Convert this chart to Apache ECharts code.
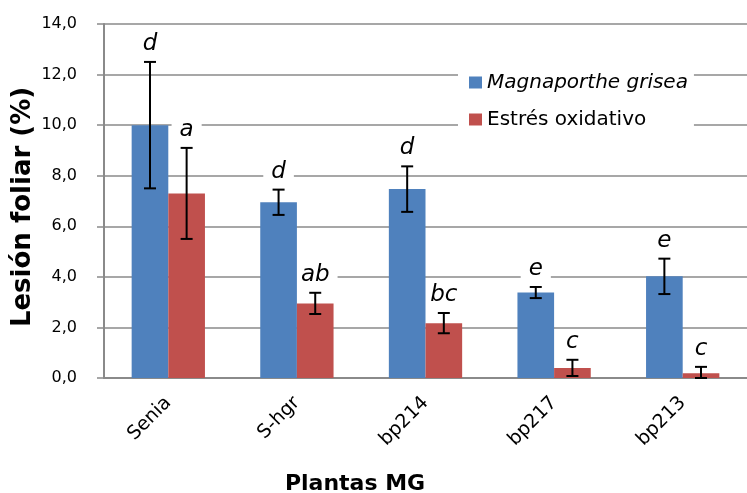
<!DOCTYPE html>
<html>
<head>
<meta charset="utf-8">
<script src="https://cdn.jsdelivr.net/npm/echarts@6/dist/echarts.min.js"></script>
<style>
  html, body { margin: 0; padding: 0; background: #fff; }
  #chart { width: 747px; height: 493px; }
</style>
</head>
<body>
<div id="chart"></div>
<script>
// Lesión foliar (%) por línea de planta, con error estándar y letras de significación
const categories = ['Senia', 'S-hgr', 'bp214', 'bp217', 'bp213'];

const magnaName = 'Magnaporthe grisea';
const magnaValues = [10.0, 6.95, 7.47, 3.38, 4.02];
const magnaErrors = [2.5, 0.5, 0.9, 0.22, 0.7];
const magnaLetters = ['d', 'd', 'd', 'e', 'e'];

const estresName = 'Estrés oxidativo';
const estresValues = [7.3, 2.95, 2.17, 0.4, 0.19];
const estresErrors = [1.8, 0.42, 0.4, 0.32, 0.25];
const estresLetters = ['a', 'ab', 'bc', 'c', 'c'];

const yTicks = [0, 2, 4, 6, 8, 10, 12, 14];

const FONT = '"DejaVu Sans", Verdana, sans-serif';
const BLUE = '#4F81BD';
const RED = '#C0504D';
const GRID_GRAY = '#8a8a8a';
const GAP = 0.43;

// x position of a bar inside its category band; side -1 = left bar, +1 = right bar
function barX(api, i, side) {
  const band = api.size([1, 0])[0];
  const bw = band * (1 - GAP) / 2;
  return api.coord([i, 0])[0] + side * bw / 2;
}

// Error bar (whisker with caps) drawn over the bars
function errorSeries(name, values, errors, side) {
  return {
    name: name,
    type: 'custom',
    z: 5,
    silent: true,
    data: values.map((v, i) => [i, v, errors[i]]),
    renderItem: function (params, api) {
      const i = api.value(0);
      const v = api.value(1);
      const e = api.value(2);
      const x = barX(api, i, side);
      const top = api.coord([i, v + e])[1];
      const bot = api.coord([i, Math.max(v - e, 0)])[1];
      const cap = 6;
      const lineStyle = { stroke: '#000', lineWidth: 2 };
      return {
        type: 'group',
        children: [
          { type: 'line', shape: { x1: x, y1: top, x2: x, y2: bot }, style: lineStyle },
          { type: 'line', shape: { x1: x - cap, y1: top, x2: x + cap, y2: top }, style: lineStyle },
          { type: 'line', shape: { x1: x - cap, y1: bot, x2: x + cap, y2: bot }, style: lineStyle }
        ]
      };
    }
  };
}

// Significance letter above each whisker; sits above gridlines but under the bars
function letterSeries(name, values, errors, letters, side) {
  return {
    name: name,
    type: 'custom',
    z: 1,
    silent: true,
    data: values.map((v, i) => [i, v, errors[i]]),
    renderItem: function (params, api) {
      const i = api.value(0);
      const x = barX(api, i, side);
      const top = api.coord([i, api.value(1) + api.value(2)])[1];
      return {
        type: 'text',
        x: x,
        y: top - 18,
        style: {
          text: letters[params.dataIndex],
          font: 'italic 23px ' + FONT,
          fill: '#000',
          align: 'center',
          verticalAlign: 'middle',
          backgroundColor: '#fff',
          padding: [0, 8]
        }
      };
    }
  };
}

const chart = echarts.init(document.getElementById('chart'), null, { renderer: 'canvas' });

chart.setOption({
  animation: false,
  backgroundColor: '#fff',
  grid: { left: 104, top: 24, width: 651, height: 354, containLabel: false },
  legend: {
    data: [magnaName, estresName],
    orient: 'vertical',
    left: 458,
    top: 67,
    backgroundColor: '#fff',
    padding: [4, 6, 8, 11],
    itemWidth: 13,
    itemHeight: 12,
    itemGap: 14,
    icon: 'rect',
    textStyle: {
      fontFamily: FONT,
      fontSize: 20,
      color: '#000',
      lineHeight: 23,
      rich: { i: { fontStyle: 'italic', fontFamily: FONT, fontSize: 20, color: '#000' } }
    },
    formatter: function (name) {
      return name === magnaName ? '{i|' + name + '}' : name;
    }
  },
  xAxis: {
    type: 'category',
    data: categories,
    axisLine: { lineStyle: { color: GRID_GRAY, width: 2 } },
    axisTick: { show: false },
    axisLabel: {
      rotate: 45,
      margin: 22,
      fontFamily: FONT,
      fontSize: 19,
      color: '#000'
    }
  },
  yAxis: {
    type: 'value',
    min: yTicks[0],
    max: yTicks[yTicks.length - 1],
    interval: 2,
    axisLine: { show: true, lineStyle: { color: GRID_GRAY, width: 2 } },
    axisTick: { show: true, length: 7, lineStyle: { color: GRID_GRAY, width: 1.5 } },
    splitLine: { lineStyle: { color: GRID_GRAY, width: 1.5 } },
    axisLabel: {
      margin: 27,
      fontFamily: FONT,
      fontSize: 16,
      color: '#000',
      formatter: function (v) { return v.toFixed(1).replace('.', ','); }
    }
  },
  graphic: [
    {
      type: 'text',
      x: 23,
      y: 207,
      rotation: Math.PI / 2,
      style: {
        text: 'Lesión foliar (%)',
        font: 'bold 26px ' + FONT,
        fill: '#000',
        align: 'center',
        verticalAlign: 'middle'
      }
    },
    {
      type: 'text',
      x: 355,
      y: 484,
      style: {
        text: 'Plantas MG',
        font: 'bold 22px ' + FONT,
        fill: '#000',
        align: 'center',
        verticalAlign: 'middle'
      }
    }
  ],
  series: [
    {
      name: magnaName,
      type: 'bar',
      z: 2,
      data: magnaValues,
      barGap: '0%',
      barCategoryGap: (GAP * 100) + '%',
      itemStyle: { color: BLUE }
    },
    {
      name: estresName,
      type: 'bar',
      z: 2,
      data: estresValues,
      barGap: '0%',
      barCategoryGap: (GAP * 100) + '%',
      itemStyle: { color: RED }
    },
    letterSeries('letras-magna', magnaValues, magnaErrors, magnaLetters, -1),
    letterSeries('letras-estres', estresValues, estresErrors, estresLetters, 1),
    errorSeries('err-magna', magnaValues, magnaErrors, -1),
    errorSeries('err-estres', estresValues, estresErrors, 1)
  ]
});
</script>
</body>
</html>
